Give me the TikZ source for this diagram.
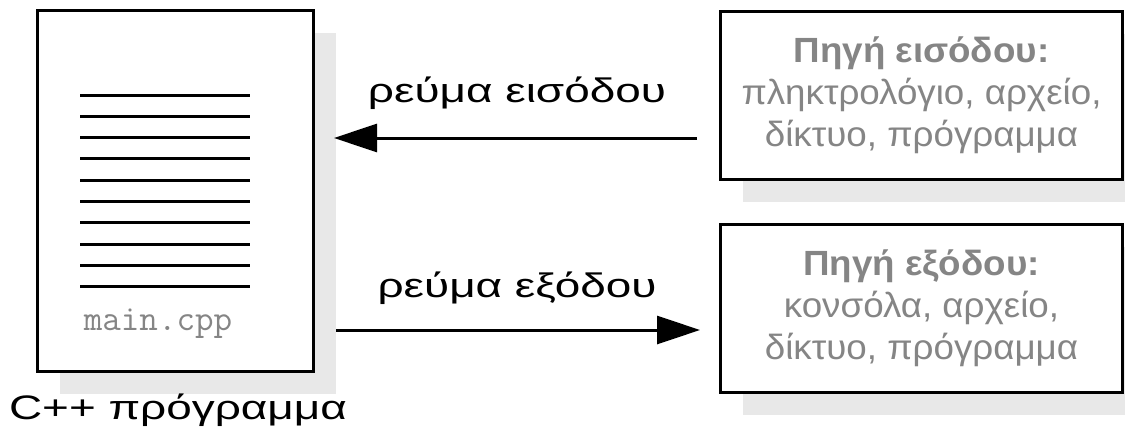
\documentclass[tikz,border=0pt]{standalone}
\usepackage{fontspec}
\setmainfont{Liberation Sans}
\newfontfamily\lblfont[FakeStretch=1.35]{Liberation Sans}
\newfontfamily\boxfont[FakeStretch=1.05]{Liberation Sans}
\usetikzlibrary{shadows,arrows.meta}
\definecolor{shadowgray}{HTML}{E8E8E8}
\definecolor{textgray}{HTML}{858585}
\tikzset{
  framebox/.style={draw=black, line width=3pt, fill=white, inner sep=0pt,
    general shadow={fill=shadowgray, shadow xshift=22pt, shadow yshift=-22pt}},
  srcbox/.style={framebox, minimum width=402pt, minimum height=168pt,
    text=textgray, align=center, font=\boxfont\fontsize{35}{42}\selectfont},
  docline/.style={line width=3pt},
  arr/.style={line width=3pt, -{Triangle[length=43pt, width=28pt]}},
  lbl/.style={font=\lblfont\fontsize{34}{40}\selectfont, inner sep=0pt, anchor=base}
}
\begin{document}
\begin{tikzpicture}[x=1pt,y=-1pt]
\useasboundingbox (0,0) rectangle (1125,434);
\node[framebox, minimum width=276pt, minimum height=361pt] (doc) at (175.5,191) {};
\foreach \i in {0,...,9} {
  \draw[docline] (80,{95+\i*21.33}) -- (250,{95+\i*21.33});
}
\node[text=textgray, font=\fontsize{36}{40}\selectfont\ttfamily, inner sep=0pt, anchor=base] (file) at (158,330) {main.cpp};
\node[lbl] (prog) at (178,419) {C++ πρόγραμμα};

\node[srcbox] (src) at (921.5,95.5) {\textbf{Πηγή εισόδου:}\\πληκτρολόγιο, αρχείο,\\δίκτυο, πρόγραμμα};
\node[srcbox] (dst) at (921.5,308.5) {\textbf{Πηγή εξόδου:}\\κονσόλα, αρχείο,\\δίκτυο, πρόγραμμα};

\coordinate (a1s) at (697,138);
\coordinate (a1e) at (334,138);
\coordinate (a2s) at (336,330);
\coordinate (a2e) at (700,330);
\draw[arr] (a1s) -- (a1e);
\draw[arr] (a2s) -- (a2e);
\node[lbl] (lin) at (517,102) {ρεύμα εισόδου};
\node[lbl] (lout) at (517,297) {ρεύμα εξόδου};
\end{tikzpicture}
\end{document}
